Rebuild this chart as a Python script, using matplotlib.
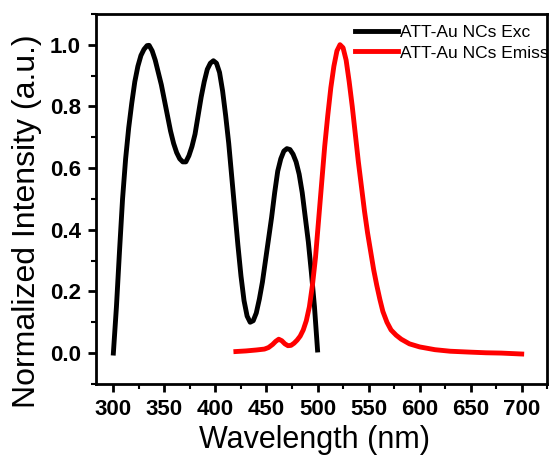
import matplotlib
matplotlib.use("Agg")
import matplotlib.pyplot as plt
from matplotlib.ticker import MultipleLocator

# excitation spectrum (black)
exc_wl = [300, 303, 306, 309, 312, 315, 318, 321, 324, 327, 330, 333, 335, 338,
          341, 344, 347, 350, 353, 356, 359, 362, 365, 368, 371, 374, 377, 380,
          383, 386, 389, 392, 395, 398, 401, 404, 407, 410, 413, 416, 419, 422,
          425, 428, 431, 434, 437, 440, 443, 446, 449, 452, 455, 458, 461, 464,
          467, 470, 473, 476, 479, 482, 485, 488, 491, 494, 497, 500]
exc_int = [0.0, 0.15, 0.33, 0.50, 0.63, 0.73, 0.81, 0.88, 0.93, 0.965, 0.985,
           0.997, 0.998, 0.98, 0.95, 0.91, 0.87, 0.82, 0.77, 0.72, 0.68, 0.65,
           0.63, 0.62, 0.62, 0.64, 0.67, 0.71, 0.77, 0.83, 0.88, 0.92, 0.94,
           0.948, 0.94, 0.91, 0.85, 0.77, 0.68, 0.57, 0.46, 0.35, 0.25, 0.17,
           0.12, 0.10, 0.105, 0.13, 0.175, 0.23, 0.30, 0.37, 0.44, 0.52, 0.59,
           0.63, 0.655, 0.663, 0.66, 0.645, 0.62, 0.58, 0.52, 0.44, 0.36, 0.26,
           0.15, 0.01]

# emission spectrum (red)
em_wl = [420, 430, 440, 448, 452, 456, 459, 462, 465, 468, 471, 474, 477, 480,
         483, 486, 489, 492, 495, 498, 501, 504, 507, 510, 513, 516, 519, 522,
         525, 528, 531, 534, 537, 540, 543, 546, 549, 552, 555, 558, 561, 564,
         568, 572, 577, 582, 590, 600, 615, 630, 650, 665, 680, 700]
em_int = [0.005, 0.007, 0.01, 0.013, 0.018, 0.028, 0.038, 0.045, 0.04, 0.03,
          0.024, 0.025, 0.032, 0.042, 0.055, 0.075, 0.105, 0.15, 0.22, 0.31,
          0.43, 0.55, 0.67, 0.77, 0.86, 0.93, 0.98, 1.0, 0.99, 0.95, 0.88, 0.80,
          0.71, 0.62, 0.54, 0.46, 0.39, 0.33, 0.27, 0.22, 0.175, 0.135, 0.10,
          0.075, 0.058, 0.045, 0.03, 0.02, 0.011, 0.006, 0.003, 0.001, 0.0,
          -0.003]

plt.rcParams["font.family"] = ["Liberation Sans", "DejaVu Sans"]

fig = plt.figure(figsize=(5.55, 4.62), dpi=100)
ax = fig.add_axes([0.173, 0.169, 0.813, 0.801])

ax.plot(exc_wl, exc_int, color="black", lw=3.5, label="ATT-Au NCs Exc")
ax.plot(em_wl, em_int, color="red", lw=3.5, label="ATT-Au NCs Emiss")

ax.set_xlim(283, 725)
ax.set_ylim(-0.1, 1.1)
ax.xaxis.set_major_locator(MultipleLocator(50))
ax.xaxis.set_minor_locator(MultipleLocator(25))
ax.yaxis.set_major_locator(MultipleLocator(0.2))
ax.yaxis.set_minor_locator(MultipleLocator(0.1))
ax.tick_params(which="major", direction="out", length=6, width=2, labelsize=16, pad=5)
ax.tick_params(which="minor", direction="out", length=3.5, width=1.5)
for lbl in ax.get_xticklabels() + ax.get_yticklabels():
    lbl.set_fontweight("bold")
for sp in ax.spines.values():
    sp.set_linewidth(2)

ax.set_xlabel("Wavelength (nm)", fontsize=22)
ax.xaxis.set_label_coords(0.485, -0.11)
ax.set_ylabel("Normalized Intensity (a.u.)", fontsize=23)
ax.yaxis.set_label_coords(-0.12, 0.44)

ax.legend(loc="upper left", bbox_to_anchor=(355 / 555, 1 - 25 / 462),
          bbox_transform=fig.transFigure, frameon=False, fontsize=12.5,
          handlelength=2.5, handletextpad=0.1, labelspacing=0.3,
          borderpad=0, borderaxespad=0)

plt.savefig("out.png", dpi=100)
